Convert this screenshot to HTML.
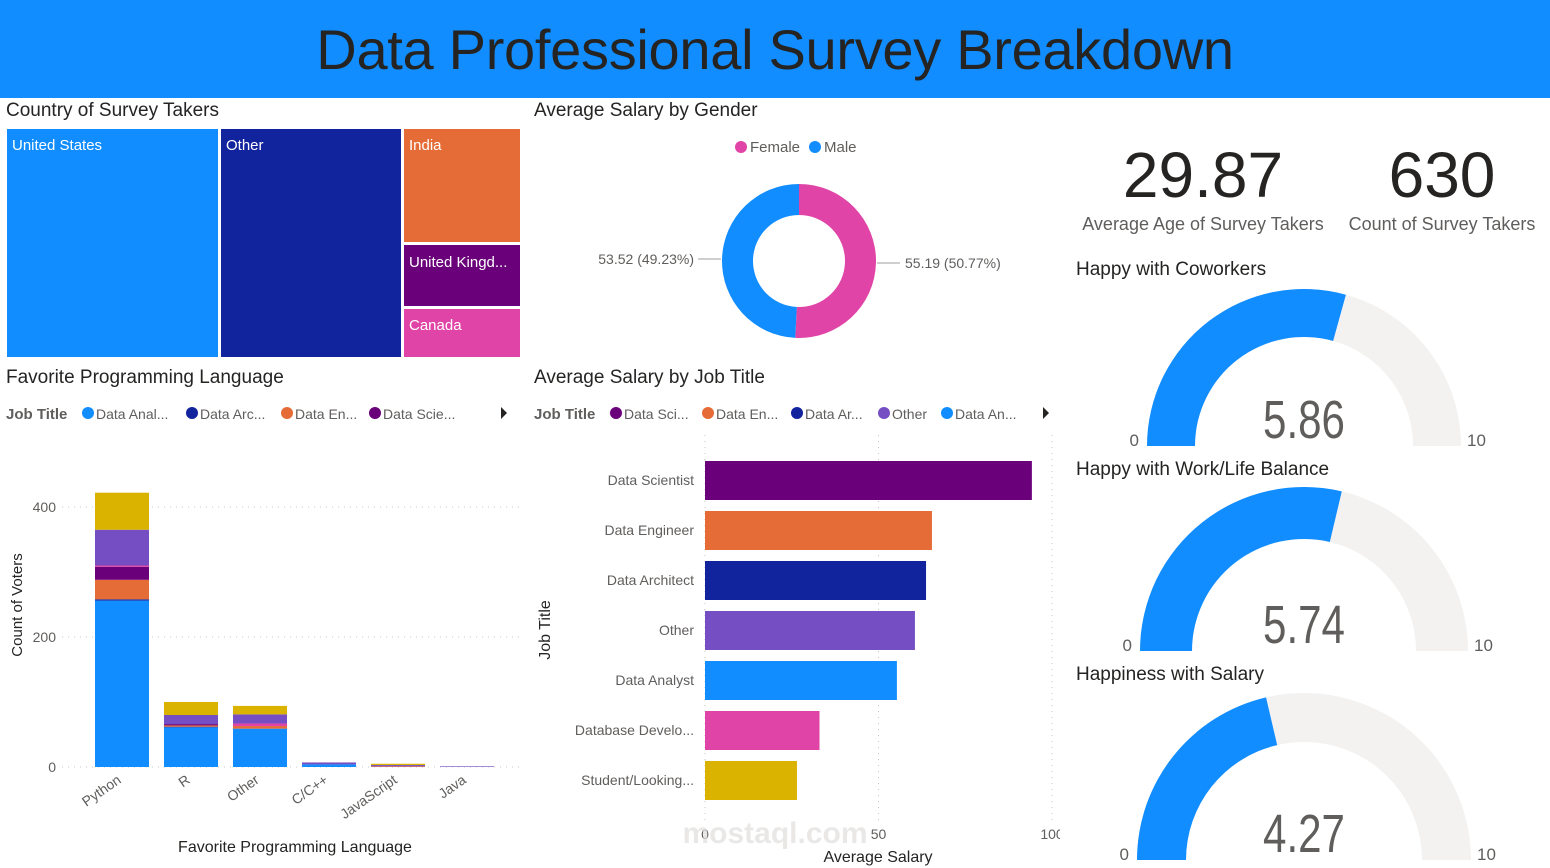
<!DOCTYPE html>
<html><head><meta charset="utf-8"><style>
body{margin:0;width:1550px;height:868px;background:#fff;font-family:"Liberation Sans",sans-serif;overflow:hidden;position:relative}
.t{position:absolute;white-space:nowrap}
.h{font-size:19px;color:#252423}
svg text{font-family:"Liberation Sans",sans-serif}
</style></head><body>
<div style="position:absolute;left:0;top:0;width:1550px;height:98px;background:#118dff"></div>
<div class="t" style="left:0;width:1550px;text-align:center;top:17px;font-size:56px;color:#252423;letter-spacing:-0.3px">Data Professional Survey Breakdown</div>

<div class="t h" style="left:6px;top:100px">Country of Survey Takers</div>
<div class="t h" style="left:534px;top:100px">Average Salary by Gender</div>
<div class="t h" style="left:6px;top:367px">Favorite Programming Language</div>
<div class="t h" style="left:534px;top:367px">Average Salary by Job Title</div>

<svg style="position:absolute;left:0;top:0" width="530" height="362">
<rect x="7" y="129" width="211" height="228" fill="#118dff"/>
<rect x="221" y="129" width="180" height="228" fill="#12239e"/>
<rect x="404" y="129" width="116" height="113" fill="#e66c37"/>
<rect x="404" y="245" width="116" height="61" fill="#6b007b"/>
<rect x="404" y="309" width="116" height="48" fill="#e044a7"/>
<g fill="#fff" font-size="15"><text x="12" y="150">United States</text><text x="226" y="150">Other</text><text x="409" y="150">India</text><text x="409" y="267">United Kingd...</text><text x="409" y="330">Canada</text></g>
</svg>

<svg id="donut" style="position:absolute;left:530px;top:120px" width="530" height="240"></svg>

<div class="t" style="left:1078px;width:250px;text-align:center;top:138px;font-size:64px;color:#252423">29.87</div>
<div class="t" style="left:1078px;width:250px;text-align:center;top:214px;font-size:18px;color:#605e5c">Average Age of Survey Takers</div>
<div class="t" style="left:1342px;width:200px;text-align:center;top:138px;font-size:64px;color:#252423">630</div>
<div class="t" style="left:1342px;width:200px;text-align:center;top:214px;font-size:18px;color:#605e5c">Count of Survey Takers</div>

<div class="t h" style="left:1076px;top:259px">Happy with Coworkers</div>
<div class="t h" style="left:1076px;top:459px">Happy with Work/Life Balance</div>
<div class="t h" style="left:1076px;top:664px">Happiness with Salary</div>
<svg id="gauges" style="position:absolute;left:0;top:0" width="1550" height="868"></svg>

<svg id="lang" style="position:absolute;left:0;top:395px" width="530" height="473"></svg>
<svg id="job" style="position:absolute;left:530px;top:395px" width="530" height="473"></svg>

<script>
const NS="http://www.w3.org/2000/svg";
function mk(p,tag,a,txt){const e=document.createElementNS(NS,tag);for(const k in a)e.setAttribute(k,a[k]);if(txt!==undefined)e.textContent=txt;p.appendChild(e);return e;}

// ---- Donut data
const genders=["Female","Male"];
const genderSalary=[55.19,53.52];
const genderColors=["#e044a7","#118dff"];
// ---- Language data
const languages=["Python","R","Other","C/C++","JavaScript","Java"];
const jobSeries=["Data Analyst","Data Architect","Data Engineer","Data Scientist","Database Developer","Other","Student/Looking"];
const seriesColors=["#118dff","#12239e","#e66c37","#6b007b","#e044a7","#744ec2","#d9b300"];
const sAnalyst=[256,61,59,4,0,0];
const sArchitect=[2,1,0,0,0,0];
const sEngineer=[30,2,4,0,1,0];
const sScientist=[20,2,0,0,0,0];
const sDbDev=[2,0,4,0,0,0];
const sOther=[55,14,14,3,2,1];
const sStudent=[57,20,13,0,2,0];
const langTicks=[0,200,400];
// ---- Job salary data
const jobTitles=["Data Scientist","Data Engineer","Data Architect","Other","Data Analyst","Database Develo...","Student/Looking..."];
const jobSalary=[94.2,65.4,63.7,60.5,55.3,33,26.5];
const jobColors=["#6b007b","#e66c37","#12239e","#744ec2","#118dff","#e044a7","#d9b300"];
const salaryTicks=[0,50,100];
// ---- Gauges
const gaugeValues=[5.86,5.74,4.27];
const gaugeMax=10;

// Donut
(function(){
 const s=document.getElementById('donut');
 const cx=269,cy=141,R=77,r=46;
 const total=genderSalary.reduce((a,b)=>a+b,0);
 let a0=0;
 genderSalary.forEach((v,i)=>{
  const a1=a0+v/total*2*Math.PI;
  const p=(a,rr)=>[cx+rr*Math.sin(a),cy-rr*Math.cos(a)];
  const [x1,y1]=p(a0,R),[x2,y2]=p(a1,R),[x3,y3]=p(a1,r),[x4,y4]=p(a0,r);
  const lg=(a1-a0)>Math.PI?1:0;
  const el=mk(s,'path',{d:`M${x1},${y1}A${R},${R} 0 ${lg} 1 ${x2},${y2}L${x3},${y3}A${r},${r} 0 ${lg} 0 ${x4},${y4}Z`,fill:genderColors[i]});
  
  
  a0=a1;
 });
 let lx=205;
 genders.forEach((g,i)=>{
  mk(s,'circle',{cx:lx+6,cy:27,r:6,fill:genderColors[i]});
  const t=mk(s,'text',{x:lx+15,y:32,'font-size':15,fill:'#605e5c'},g);
  
  
  lx+=74;
 });
 const pct=genderSalary.map(v=>(v/total*100).toFixed(2));
 mk(s,'line',{x1:347,y1:143,x2:370,y2:143,stroke:'#a19f9d'});
 mk(s,'text',{x:375,y:148,'font-size':14,fill:'#605e5c'},genderSalary[0]+" ("+pct[0]+"%)");
 mk(s,'line',{x1:168,y1:139,x2:191,y2:139,stroke:'#a19f9d'});
 mk(s,'text',{x:164,y:144,'font-size':14,fill:'#605e5c','text-anchor':'end'},genderSalary[1]+" ("+pct[1]+"%)");
})();

function legend(s,names,cols,xsPos){
 names.forEach((n,i)=>{
  const x=xsPos[i];
  mk(s,'circle',{cx:x-8,cy:18,r:6,fill:cols[i]});
  const t=mk(s,'text',{x:x,y:24,'font-size':14,fill:'#605e5c'},n);
  
  
 });
}

// Language stacked chart
(function(){
 const s=document.getElementById('lang');
 const y0=372,yScale=v=>y0-v*0.65;
 const x0=95,step=69,bw=54;
 mk(s,'text',{x:6,y:24,'font-size':15,'font-weight':'bold',fill:'#605e5c'},"Job Title");
 legend(s,["Data Anal...","Data Arc...","Data En...","Data Scie..."],seriesColors.slice(0,4),[96,200,295,383]);
 mk(s,'path',{d:'M501,12 L507,18 L501,24Z',fill:'#252423'});
 langTicks.forEach(v=>{const y=yScale(v);mk(s,'line',{x1:62,x2:520,y1:y,y2:y,stroke:'#c8c6c4','stroke-dasharray':'1,5'});mk(s,'text',{x:56,y:y+5,'font-size':14,fill:'#605e5c','text-anchor':'end'},v);});
 const series=[sAnalyst,sArchitect,sEngineer,sScientist,sDbDev,sOther,sStudent];
 languages.forEach((l,i)=>{
  let cum=0;const x=x0+i*step;
  series.forEach((arr,k)=>{const v=arr[i];if(v<=0)return;const r=mk(s,'rect',{x:x,y:yScale(cum+v),width:bw,height:v*0.65,fill:seriesColors[k]});cum+=v;});
  mk(s,'text',{x:x+bw/2,y:387,'font-size':14,fill:'#605e5c','text-anchor':'end',transform:`rotate(-35 ${x+bw/2} 387)`},l);
 });
 mk(s,'text',{x:22,y:210,'font-size':15,fill:'#252423','text-anchor':'middle',transform:'rotate(-90 22 210)'},"Count of Voters");
 mk(s,'text',{x:295,y:457,'font-size':16,fill:'#252423','text-anchor':'middle'},"Favorite Programming Language");
})();

// Job bar chart
(function(){
 const s=document.getElementById('job');
 const xs=v=>175+v*3.47;
 mk(s,'text',{x:4,y:24,'font-size':15,'font-weight':'bold',fill:'#605e5c'},"Job Title");
 legend(s,["Data Sci...","Data En...","Data Ar...","Other","Data An..."],[jobColors[0],jobColors[1],jobColors[2],jobColors[3],jobColors[4]],[94,186,275,362,425]);
 mk(s,'path',{d:'M513,12 L519,18 L513,24Z',fill:'#252423'});
 salaryTicks.forEach(v=>{const x=xs(v);mk(s,'line',{x1:x,x2:x,y1:40,y2:425,stroke:'#c8c6c4','stroke-dasharray':'1,5'});mk(s,'text',{x:x,y:444,'font-size':14,fill:'#605e5c','text-anchor':'middle'},v);});
 jobTitles.forEach((j,i)=>{
  const cy=85+i*50;
  const r=mk(s,'rect',{x:xs(0),y:cy-19,width:xs(jobSalary[i])-xs(0),height:39,fill:jobColors[i]});
  
  
  mk(s,'text',{x:164,y:cy+5,'font-size':14,fill:'#605e5c','text-anchor':'end'},j);
 });
 mk(s,'text',{x:20,y:235,'font-size':16,fill:'#252423','text-anchor':'middle',transform:'rotate(-90 20 235)'},"Job Title");
 mk(s,'text',{x:348,y:467,'font-size':16,fill:'#252423','text-anchor':'middle'},"Average Salary");
 mk(s,'text',{x:245,y:448,'font-size':30,'font-weight':'bold',fill:'#e1dfdd','text-anchor':'middle','opacity':0.7},"mostaql.com");
})();

// Gauges
(function(){
 const s=document.getElementById('gauges');
 const geo=[[1304,446,157,109],[1304,651,164,112],[1304,860,167,118]];
 gaugeValues.forEach((v,i)=>{
  const [cx,cy,R,r]=geo[i];
  const arc=(f0,f1,col)=>{const a0=Math.PI*(1-f0),a1=Math.PI*(1-f1);
   const p=(a,rr)=>[cx+rr*Math.cos(a),cy-rr*Math.sin(a)];
   const [x1,y1]=p(a0,R),[x2,y2]=p(a1,R),[x3,y3]=p(a1,r),[x4,y4]=p(a0,r);
   return mk(s,'path',{d:`M${x1},${y1}A${R},${R} 0 0 1 ${x2},${y2}L${x3},${y3}A${r},${r} 0 0 0 ${x4},${y4}Z`,fill:col});};
  arc(0,1,'#f3f2f1');
  const g=arc(0,v/gaugeMax,'#118dff');
  
  
  mk(s,'text',{x:0,y:0,'font-size':54,fill:'#605e5c','text-anchor':'middle',transform:`translate(${cx},${cy-8}) scale(0.78,1)`},v.toFixed(2));
  mk(s,'text',{x:cx-R-8,y:cy,'font-size':17,fill:'#605e5c','text-anchor':'end'},0);
  mk(s,'text',{x:cx+R+6,y:cy,'font-size':17,fill:'#605e5c'},gaugeMax);
 });
})();
</script>
</body></html>
